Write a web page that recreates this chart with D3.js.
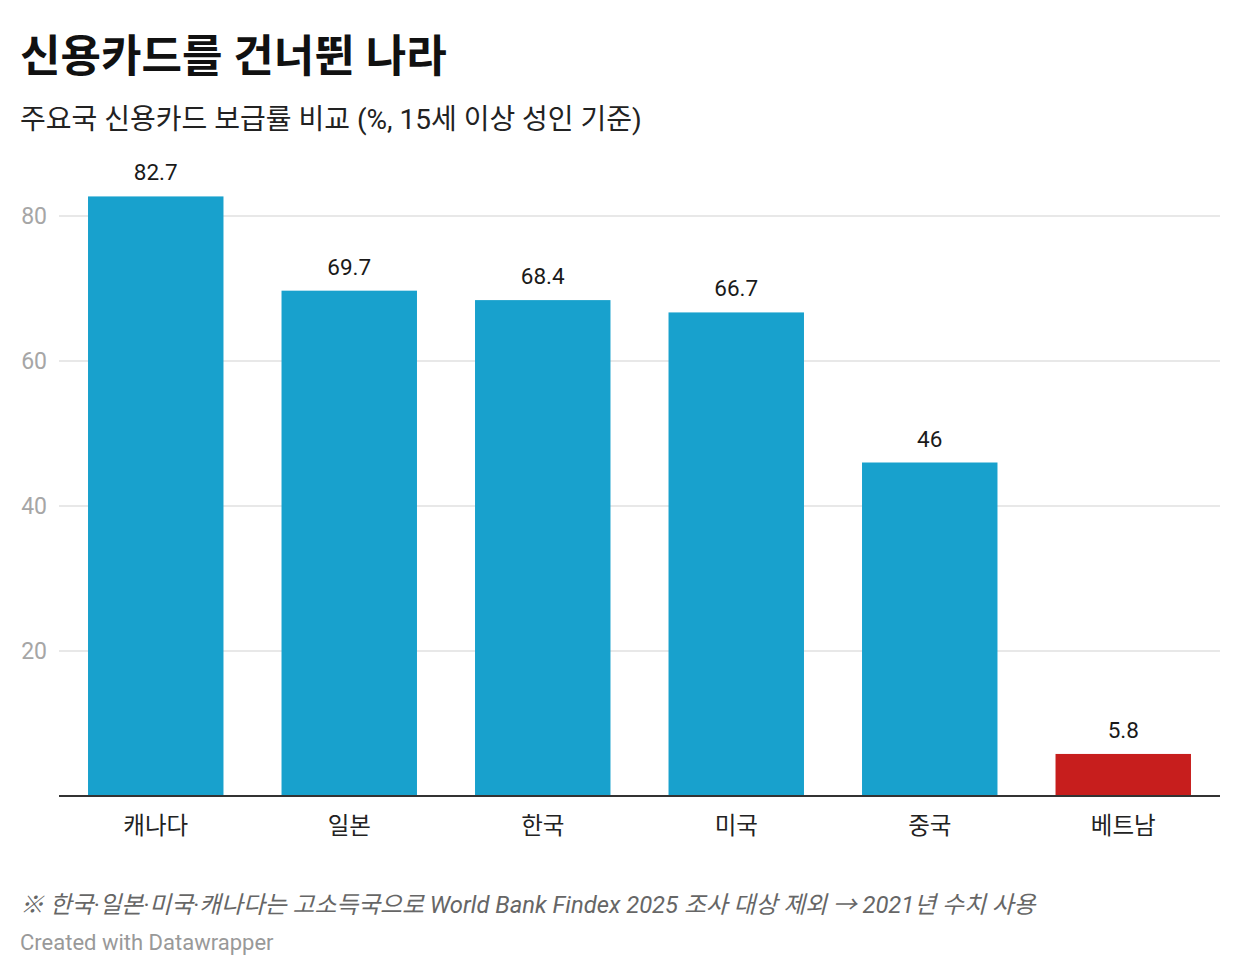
<!DOCTYPE html>
<html>
<head>
<meta charset="utf-8">
<script src="https://cdn.jsdelivr.net/npm/d3@7"></script>
<style>
  body { margin: 0; background: #fff; }
  text { font-family: Roboto, "Noto Sans CJK KR", sans-serif; }
</style>
</head>
<body>
<div id="chart"></div>
<script>
var countries = ["캐나다", "일본", "한국", "미국", "중국", "베트남"];
var values = [82.7, 69.7, 68.4, 66.7, 46, 5.8];
var highlight = ["베트남"];
var yTicks = [20, 40, 60, 80];

var W = 1240, H = 976;
var plotLeft = 59, plotRight = 1220;
var plotTop = 216, plotBottom = 796;

var svg = d3.select("#chart").append("svg")
  .attr("width", W).attr("height", H);

svg.append("text").attr("x", 20).attr("y", 72)
  .attr("font-size", 44).attr("font-weight", 700).attr("fill", "#111")
  .text("신용카드를 건너뛴 나라");
svg.append("text").attr("x", 20).attr("y", 129)
  .attr("font-size", 28).attr("fill", "#222")
  .text("주요국 신용카드 보급률 비교 (%, 15세 이상 성인 기준)");

var x = d3.scaleBand().domain(countries).range([plotLeft, plotRight]).paddingInner(0.3).paddingOuter(0.15);
var y = d3.scaleLinear().domain([0, 80]).range([plotBottom, plotTop]);

// gridlines + y labels
var g = svg.append("g");
g.selectAll(".grid").data(yTicks).enter().append("line")
  .attr("x1", plotLeft).attr("x2", plotRight)
  .attr("y1", function (d) { return y(d); }).attr("y2", function (d) { return y(d); })
  .attr("stroke", "#e0e0e0").attr("stroke-width", 1.5);
g.selectAll(".ylab").data(yTicks).enter().append("text")
  .attr("x", 47).attr("y", function (d) { return y(d) + 8; })
  .attr("text-anchor", "end").attr("font-size", 23).attr("fill", "#a6a6a6")
  .text(function (d) { return d; });

// bars
g.selectAll(".bar").data(countries).enter().append("rect")
  .attr("x", function (d) { return x(d); })
  .attr("width", x.bandwidth())
  .attr("y", function (d, i) { return y(values[i]); })
  .attr("height", function (d, i) { return plotBottom - y(values[i]); })
  .attr("fill", function (d) { return highlight.indexOf(d) >= 0 ? "#c71e1d" : "#18a1cd"; });

// value labels
g.selectAll(".val").data(countries).enter().append("text")
  .attr("x", function (d) { return x(d) + x.bandwidth() / 2; })
  .attr("y", function (d, i) { return y(values[i]) - 16; })
  .attr("text-anchor", "middle").attr("font-size", 22.5).attr("fill", "#1a1a1a")
  .text(function (d, i) { return values[i]; });

// baseline
g.append("line").attr("x1", plotLeft).attr("x2", plotRight)
  .attr("y1", plotBottom).attr("y2", plotBottom)
  .attr("stroke", "#333").attr("stroke-width", 2);

// x labels
g.selectAll(".xlab").data(countries).enter().append("text")
  .attr("x", function (d) { return x(d) + x.bandwidth() / 2; })
  .attr("y", 834).attr("text-anchor", "middle").attr("font-size", 23.5).attr("fill", "#222")
  .text(function (d) { return d; });

svg.append("text").attr("x", 20).attr("y", 913)
  .attr("font-size", 23.8).attr("font-style", "italic").attr("fill", "#666")
  .text("※ 한국·일본·미국·캐나다는 고소득국으로 World Bank Findex 2025 조사 대상 제외 → 2021년 수치 사용");
svg.append("text").attr("x", 20).attr("y", 950)
  .attr("font-size", 22).attr("fill", "#999")
  .text("Created with Datawrapper");
</script>
</body>
</html>
